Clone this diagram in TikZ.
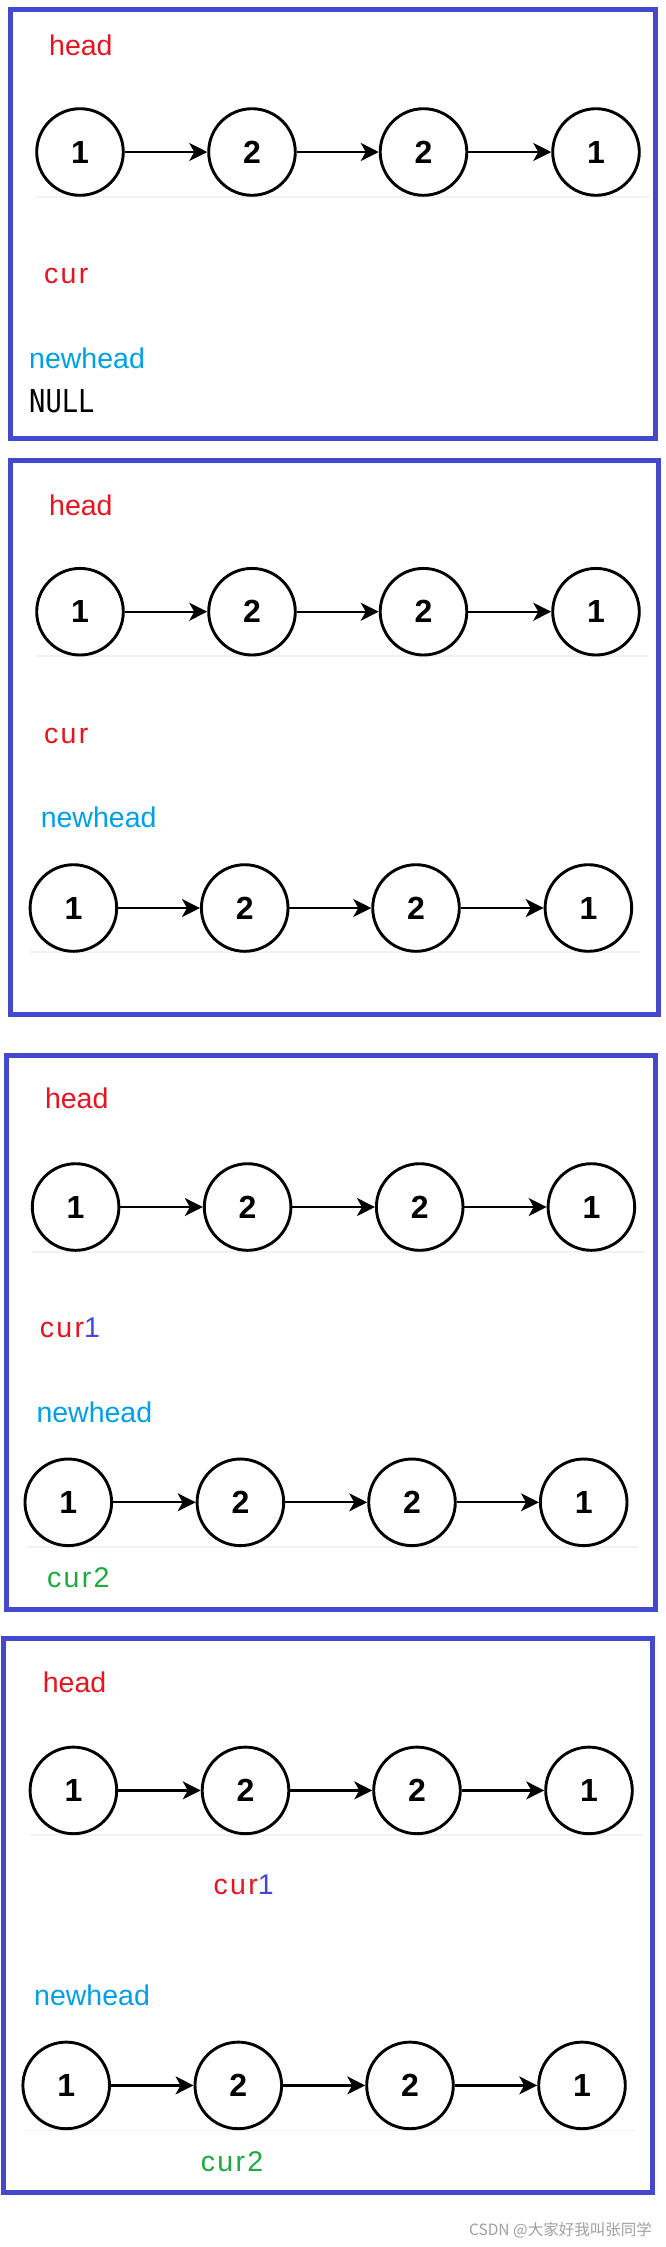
\documentclass[tikz,border=0pt]{standalone}
\usepackage{fontspec}
\setmainfont{Liberation Sans}
\newfontfamily\monofnt{DejaVu Sans Mono}
\newfontfamily\cjkfnt{Noto Sans CJK SC}
\newfontfamily\spacedfnt[LetterSpace=8]{Liberation Sans}
\usetikzlibrary{arrows.meta}
\definecolor{boxblue}{RGB}{67,72,204}
\definecolor{lblred}{RGB}{232,20,30}
\definecolor{lblcyan}{RGB}{0,160,233}
\definecolor{lblblue}{RGB}{70,70,220}
\definecolor{lblgreen}{RGB}{30,170,60}
\definecolor{faint}{RGB}{242,242,242}
\definecolor{wmgray}{RGB}{160,160,160}
\tikzset{
  frame/.style={draw=boxblue, line width=5pt},
  cnode/.style={circle, draw=black, line width=2.9pt, minimum size=86.6pt, inner sep=0pt,
                font=\fontsize{32}{32}\selectfont\bfseries},
  link/.style={draw=black, line width=2.2pt, -{Stealth[length=18pt,width=18pt,inset=5pt]}},
  baseline rule/.style={draw=faint, line width=1.2pt},
  lbl/.style={anchor=base west, inner sep=0pt, font=\fontsize{28.5}{30}\selectfont},
  curlbl/.style={anchor=base west, inner sep=0pt, font=\fontsize{28.5}{30}\spacedfnt},
  nulltxt/.style={anchor=base west, inner sep=0pt, font=\fontsize{31.5}{32}\monofnt},
  wm/.style={anchor=base east, inner sep=0pt, text=wmgray, font=\fontsize{15.5}{16}\cjkfnt}
}
\newcommand\linkedrow[6]{%
  \node[cnode] (#1a) at (#3,#2) {1};
  \node[cnode] (#1b) at (#4,#2) {2};
  \node[cnode] (#1c) at (#5,#2) {2};
  \node[cnode] (#1d) at (#6,#2) {1};
  \draw[link] (#1a) -- (#1b);
  \draw[link] (#1b) -- (#1c);
  \draw[link] (#1c) -- (#1d);
}
\begin{document}
\begin{tikzpicture}[x=1pt, y=-1pt]
\useasboundingbox[fill=white] (0,0) rectangle (666,2247);

% ---------- Box 1 ----------
\draw[frame] (10.7,9.5) rectangle (655,438);
\node[lbl, text=lblred] (h1) at (49,55) {head};
\draw[baseline rule] (37,197) -- (649,197);
\linkedrow{ra}{152}{80}{252}{423.5}{596}
\node[curlbl, text=lblred] (c1) at (44,283) {cur};
\node[lbl, text=lblcyan] (n1) at (29,368) {newhead};
\node[nulltxt] (null1) at (29,412) {\scalebox{0.86}[1]{NULL}};

% ---------- Box 2 ----------
\draw[frame] (10.2,460) rectangle (658,1014);
\node[lbl, text=lblred] (h2) at (49,515) {head};
\draw[baseline rule] (37,656) -- (649,656);
\linkedrow{rb}{611.7}{80}{252}{423.5}{596}
\node[curlbl, text=lblred] (c2) at (44,743.7) {cur};
\node[lbl, text=lblcyan] (n2) at (40.6,827) {newhead};
\draw[baseline rule] (30,952) -- (641,952);
\linkedrow{rc}{908}{73.4}{244.7}{416}{588.4}

% ---------- Box 3 ----------
\draw[frame] (6.4,1055) rectangle (655,1609);
\node[lbl, text=lblred] (h3) at (44.8,1108.8) {head};
\draw[baseline rule] (32,1252) -- (645,1252);
\linkedrow{rd}{1207}{75.6}{247.6}{419.7}{591.4}
\node[curlbl, text=lblred] (c3a) at (39.7,1337.7) {cur\textcolor{lblblue}{1}};
\node[lbl, text=lblcyan] (n3) at (36.3,1422.3) {newhead};
\draw[baseline rule] (25.6,1547) -- (638,1547);
\linkedrow{re}{1502.3}{68.3}{240.4}{412}{583.7}
\node[curlbl, text=lblgreen] (c3b) at (47,1587.7) {cur2};

% ---------- Box 4 ----------
\draw[frame] (3.8,1638) rectangle (652.7,2192);
\node[lbl, text=lblred] (h4) at (42.7,1692.3) {head};
\draw[baseline rule] (30,1835) -- (642.6,1835);
\linkedrow{rf}{1790.4}{73.4}{245.5}{417}{589}
\node[curlbl, text=lblred] (c4a) at (213.5,1894) {cur\textcolor{lblblue}{1}};
\node[lbl, text=lblcyan] (n4) at (34,2005.8) {newhead};
\draw[baseline rule] (23.5,2130.4) -- (636,2130.4);
\linkedrow{rg}{2085.4}{66.2}{238.3}{410}{582}
\node[curlbl, text=lblgreen] (c4b) at (200.7,2171.4) {cur2};

% watermark
\node[wm] (wmark) at (652,2235) {CSDN @大家好我叫张同学};
\end{tikzpicture}
\end{document}
